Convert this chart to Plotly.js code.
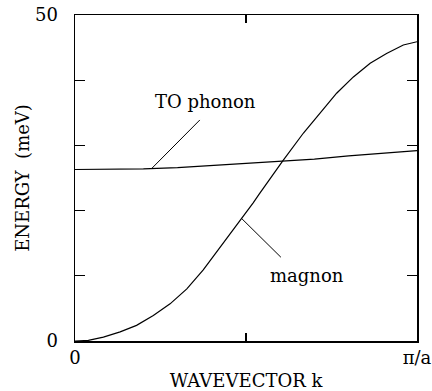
<!DOCTYPE html>
<html>
<head>
<meta charset="utf-8">
<script src="https://cdn.plot.ly/plotly-3.0.1.min.js"></script>
<style>html,body{margin:0;padding:0;background:#fff;}</style>
</head>
<body>
<div id="chart" style="width:432px;height:391px;"></div>
<script>
// Wavevector k in units of pi/a
var phononK = [0, 0.1, 0.2, 0.3, 0.4, 0.5, 0.6, 0.7, 0.8, 0.9, 1.0];
var phononE = [26.3, 26.3, 26.4, 26.6, 26.9, 27.2, 27.5, 27.9, 28.4, 28.8, 29.2];

var magnonK = [0, 0.039, 0.083, 0.132, 0.18, 0.229, 0.278, 0.327, 0.375, 0.422, 0.454, 0.487, 0.521, 0.538, 0.607, 0.668, 0.716, 0.765, 0.814, 0.863, 0.911, 0.96, 1.0];
var magnonE = [0, 0.1, 0.6, 1.4, 2.4, 3.9, 5.7, 8.0, 10.9, 14.2, 16.4, 18.9, 21.2, 22.5, 27.6, 31.9, 35.0, 38.0, 40.5, 42.6, 44.1, 45.4, 45.9];

var xTickVals = [0, 0.5, 1];
var xTickText = ['0', '', 'π/a'];
var yTickVals = [0, 10, 20, 30, 40, 50];
var yTickText = ['0', '', '', '', '', '50'];

var labels = [
  {text: 'TO phonon', k: 0.383, e: 36.8, fromK: 0.225, fromE: 26.5, toK: 0.365, toE: 33.9},
  {text: 'magnon', k: 0.678, e: 10.0, fromK: 0.487, fromE: 18.8, toK: 0.602, toE: 12.85}
];

var FONT = 'DejaVu Serif';
var FS = 18;

var traces = [
  {x: phononK, y: phononE, mode: 'lines', line: {color: '#000', width: 1.2}, hoverinfo: 'skip', name: 'TO phonon'},
  {x: magnonK, y: magnonE, mode: 'lines', line: {color: '#000', width: 1.2}, hoverinfo: 'skip', name: 'magnon'}
];

var layout = {
  width: 432, height: 391,
  margin: {l: 75, r: 15, t: 15, b: 50},
  paper_bgcolor: '#fff', plot_bgcolor: '#fff',
  showlegend: false,
  font: {family: FONT, size: FS, color: '#000'},
  xaxis: {
    range: [0, 1], showgrid: false, zeroline: false,
    showline: true, linecolor: '#000', linewidth: 1.5, mirror: 'ticks',
    ticks: 'inside', ticklen: 8, tickwidth: 1.2, tickcolor: '#000',
    tickmode: 'array', tickvals: xTickVals, ticktext: xTickText,
    tickfont: {family: FONT, size: FS, color: '#000'},
    ticklabelstandoff: 0,
    title: {text: 'WAVEVECTOR k', font: {family: FONT, size: FS, color: '#000'}, standoff: 8}
  },
  yaxis: {
    range: [0, 50], showgrid: false, zeroline: false,
    showline: true, linecolor: '#000', linewidth: 1.5, mirror: 'ticks',
    ticks: 'inside', ticklen: 10, tickwidth: 1.2, tickcolor: '#000',
    tickmode: 'array', tickvals: yTickVals, ticktext: yTickText,
    tickfont: {family: FONT, size: FS, color: '#000'},
    ticklabelstandoff: 12,
    title: {text: 'ENERGY  (meV)', font: {family: FONT, size: FS, color: '#000'}, standoff: 0}
  },
  annotations: labels.map(function (l) {
    return {x: l.k, y: l.e, xref: 'x', yref: 'y', text: l.text, showarrow: false,
            xanchor: 'center', yanchor: 'middle', font: {family: FONT, size: FS, color: '#000'}};
  }),
  shapes: labels.map(function (l) {
    return {type: 'line', xref: 'x', yref: 'y', x0: l.fromK, y0: l.fromE, x1: l.toK, y1: l.toE,
            line: {color: '#000', width: 1}};
  })
};

Plotly.newPlot('chart', traces, layout, {displayModeBar: false, staticPlot: true});
</script>
</body>
</html>
